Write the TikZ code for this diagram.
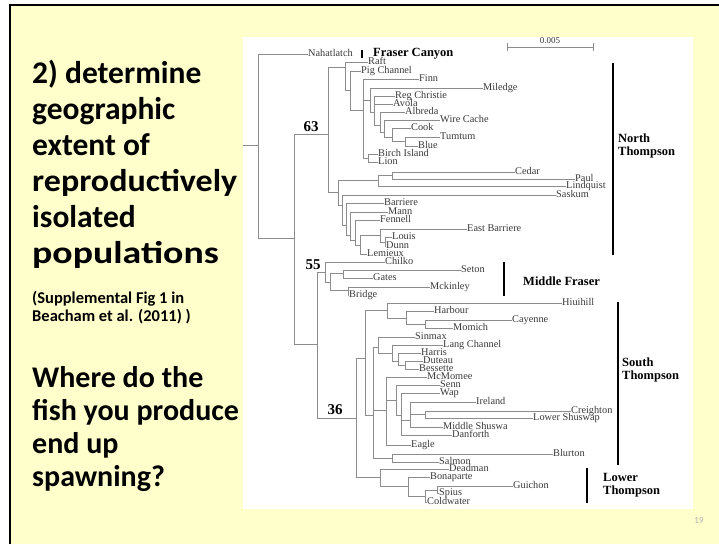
\documentclass[tikz,border=0pt]{standalone}
\usepackage{fontspec}
\setmainfont{Liberation Serif}
\newfontfamily\slidefont{Carlito}
\definecolor{slideyellow}{HTML}{FFFFCC}
\definecolor{treegray}{HTML}{8C8C8C}
\definecolor{labelgray}{HTML}{3A3A3A}
\definecolor{pagegray}{HTML}{B0B0B0}
\begin{document}
\begin{tikzpicture}[x=1pt,y=-1pt,
  branch/.style={draw=treegray, line width=0.8pt},
  taxon/.style={anchor=west, inner sep=0pt, text height=5.8pt, text depth=1.6pt,
    font=\fontsize{10.3}{10.3}\selectfont, text=labelgray},
  groupbar/.style={line width=2.6pt, draw=black},
  grouplabel/.style={anchor=west, inner sep=0pt, align=left,
    font=\bfseries\fontsize{12.5}{13.5}\selectfont},
  support/.style={inner sep=0pt, font=\bfseries\fontsize{15}{15}\selectfont},
  heading/.style={anchor=base west, inner sep=0pt,
    font=\slidefont\bfseries\fontsize{31.5}{36}\selectfont},
  question/.style={anchor=base west, inner sep=0pt,
    font=\slidefont\bfseries\fontsize{30}{33}\selectfont},
  source/.style={anchor=base west, inner sep=0pt,
    font=\slidefont\bfseries\fontsize{16.5}{18}\selectfont}]

\useasboundingbox (0,0) rectangle (719,544);
% slide background and frame
\fill[white] (0,0) rectangle (719,544);
\fill[slideyellow] (10,5) rectangle (719,544);
\draw[line width=1.6pt] (10,544) -- (10,5) -- (719,5);
% figure panel
\fill[white] (243,37) rectangle (693,509);

% left-hand text
\node[heading] (h1) at (32,83)  {2) determine};
\node[heading] (h2) at (32,119) {geographic};
\node[heading] (h3) at (32,155) {extent of};
\node[heading] (h4) at (32,191) {\scalebox{1.08}[1]{reproductively}};
\node[heading] (h5) at (32,227) {isolated};
\node[heading] (h6) at (32,263) {\scalebox{1.2}[1]{populations}};
\node[source]  (s1) at (32,303) {(Supplemental Fig 1 in};
\node[source]  (s2) at (32,321) {Beacham et al. (2011) )};
\node[question] (q1) at (32,387) {Where do the};
\node[question] (q2) at (32,420) {fish you produce};
\node[question] (q3) at (32,453) {end up};
\node[question] (q4) at (32,486) {spawning?};
\node[inner sep=0pt, font=\slidefont\fontsize{9}{9}\selectfont, text=pagegray] (pg) at (699,521) {19};

% scale bar
\coordinate (sbL) at (507,47);
\coordinate (sbR) at (593,47);
\draw[branch] (sbL) -- (sbR);
\draw[branch] ([yshift=-4pt]sbL) -- ([yshift=4pt]sbL);
\draw[branch] ([yshift=-4pt]sbR) -- ([yshift=4pt]sbR);
\node[inner sep=0pt, font=\fontsize{9}{9}\selectfont, text=labelgray] (sbtext) at (550,41) {0.005};

% internal nodes of the tree
\coordinate (stub) at (243,145);
\coordinate (root) at (258,145);
\coordinate (nB0) at (294,238);
\coordinate (n63) at (328,134);
\coordinate (nA)  at (345,67);
\coordinate (nPC) at (350,90);
\coordinate (nFi) at (363,110);
\coordinate (nMi) at (370,100);
\coordinate (nRC) at (374,112);
\coordinate (nAl) at (380,125);
\coordinate (nWC) at (384,132);
\coordinate (nCo) at (392,137);
\coordinate (nTu) at (405,141);
\coordinate (nBL) at (368,158);
\coordinate (nB)  at (338,192);
\coordinate (nCd) at (378,180);
\coordinate (nCP) at (392,175);
\coordinate (nSB) at (342,205);
\coordinate (nBa) at (346,225);
\coordinate (nMa) at (350,235);
\coordinate (nFe) at (355,240);
\coordinate (nEB) at (360,245);
\coordinate (nEL) at (380,235);
\coordinate (nLD) at (385,242);
\coordinate (nC)  at (317,344);
\coordinate (nMF) at (325,272);
\coordinate (nMF2) at (330,282);
\coordinate (nSG) at (343,273);
\coordinate (nMB) at (348,290);
\coordinate (nD)  at (356,418);
\coordinate (nST) at (365,358);
\coordinate (nH)  at (387,310);
\coordinate (nH2) at (406,318);
\coordinate (nH3) at (425,324);
\coordinate (nY)  at (373,415);
\coordinate (nZ)  at (378,347);
\coordinate (nL)  at (392,353);
\coordinate (nHa) at (398,361);
\coordinate (nDu) at (405,365);
\coordinate (nQ)  at (386,410);
\coordinate (nSW) at (396,400);
\coordinate (nWp) at (401,415);
\coordinate (nIr) at (410,420);
\coordinate (nCL) at (425,414);
\coordinate (nBS) at (392,458);
\coordinate (nLT) at (380,477);
\coordinate (nBG) at (408,486);
\coordinate (nGS) at (425,496);
\coordinate (nGu) at (437,490);

% population labels
\foreach \n/\x/\y/\t in {
  Nahatlatch/308/54/Nahatlatch, Raft/368/62/Raft, PigChannel/361/71/Pig Channel,
  Finn/419/79/Finn, Miledge/483/88/Miledge, RegChristie/395/96/Reg Christie,
  Avola/393/104/Avola, Albreda/405/112/Albreda, WireCache/440/120/Wire Cache,
  Cook/411/128/Cook, Tumtum/440/137/Tumtum, Blue/418/146/Blue,
  BirchIsland/378/154/Birch Island, Lion/378/162/Lion, Cedar/515/172/Cedar,
  Paul/575/179/Paul, Lindquist/566/186/Lindquist, Saskum/556/195/Saskum,
  Barriere/384/203/Barriere, Mann/388/212/Mann, Fennell/380/220/Fennell,
  EastBarriere/467/229/East Barriere, Louis/392/237/Louis, Dunn/386/246/Dunn,
  Lemieux/367/254/Lemieux, Chilko/385/262/Chilko, Seton/461/270/Seton,
  Gates/373/278/Gates, Mckinley/430/287/Mckinley, Bridge/349/295/Bridge,
  Hiuihill/562/303/Hiuihill, Harbour/434/311/Harbour, Cayenne/512/320/Cayenne,
  Momich/453/328/Momich, Sinmax/415/337/Sinmax, LangChannel/443/345/Lang Channel,
  Harris/421/353/Harris, Duteau/423/361/Duteau, Bessette/419/369/Bessette,
  McMomee/427/377/McMomee, Senn/440/385/Senn, Wap/440/393/Wap,
  Ireland/476/402/Ireland, Creighton/571/411/Creighton, LowerShuswap/533/418/Lower Shuswap,
  MiddleShuswa/443/427/Middle Shuswa, Danforth/452/435/Danforth, Eagle/411/445/Eagle,
  Blurton/553/454/Blurton, Salmon/439/462/Salmon, Deadman/449/469/Deadman,
  Bonaparte/430/477/Bonaparte, Guichon/513/486/Guichon, Spius/439/493/Spius,
  Coldwater/427/502/Coldwater}
  \node[taxon] (\n) at (\x,\y) {\t};

% branches
\draw[branch] (stub) -- (root);
\foreach \p/\c in {
  root/Nahatlatch.west, root/nB0,
  nB0/n63, nB0/nC,
  n63/nA, n63/nB,
  nA/Raft.west, nA/nPC,
  nPC/PigChannel.west, nPC/nFi,
  nFi/Finn.west, nFi/nMi, nFi/nBL,
  nMi/Miledge.west, nMi/nRC,
  nRC/RegChristie.west, nRC/Avola.west, nRC/nAl,
  nAl/Albreda.west, nAl/nWC,
  nWC/WireCache.west, nWC/nCo,
  nCo/Cook.west, nCo/nTu,
  nTu/Tumtum.west, nTu/Blue.west,
  nBL/BirchIsland.west, nBL/Lion.west,
  nB/nCd, nB/nSB,
  nCd/nCP, nCd/Lindquist.west,
  nCP/Cedar.west, nCP/Paul.west,
  nSB/Saskum.west, nSB/nBa,
  nBa/Barriere.west, nBa/nMa,
  nMa/Mann.west, nMa/nFe,
  nFe/Fennell.west, nFe/nEB,
  nEB/nEL, nEB/Lemieux.west,
  nEL/EastBarriere.west, nEL/nLD,
  nLD/Louis.west, nLD/Dunn.west,
  nC/nMF, nC/nD,
  nMF/Chilko.west, nMF/nMF2,
  nMF2/nSG, nMF2/nMB,
  nSG/Seton.west, nSG/Gates.west,
  nMB/Mckinley.west, nMB/Bridge.west,
  nD/nST, nD/nLT,
  nST/nH, nST/nY,
  nH/Hiuihill.west, nH/nH2,
  nH2/Harbour.west, nH2/nH3,
  nH3/Cayenne.west, nH3/Momich.west,
  nY/nZ, nY/nQ, nY/nBS,
  nZ/Sinmax.west, nZ/nL,
  nL/LangChannel.west, nL/nHa,
  nHa/Harris.west, nHa/nDu,
  nDu/Duteau.west, nDu/Bessette.west,
  nQ/McMomee.west, nQ/nSW, nQ/Eagle.west,
  nSW/Senn.west, nSW/nWp,
  nWp/Wap.west, nWp/nIr, nWp/Danforth.west,
  nIr/Ireland.west, nIr/nCL, nIr/MiddleShuswa.west,
  nCL/Creighton.west, nCL/LowerShuswap.west,
  nBS/Blurton.west, nBS/Salmon.west,
  nLT/Deadman.west, nLT/nBG,
  nBG/Bonaparte.west, nBG/nGS,
  nGS/nGu, nGS/Coldwater.west,
  nGu/Guichon.west, nGu/Spius.west}
  \draw[branch] (\p) |- (\c);

% bootstrap support values
\node[support] (b63) at (311,127) {63};
\node[support] (b55) at (313,265) {55};
\node[support] (b36) at (335,410) {36};

% regional groups
\draw[groupbar] (362,50) -- (362,58);
\node[grouplabel] (gFC) at (373,54) {Fraser Canyon};
\draw[groupbar] (613,63) -- (613,255);
\node[grouplabel] (gNT) at (618,146) {North\\Thompson};
\draw[groupbar] (504,262) -- (504,296);
\node[grouplabel] (gMF) at (523,281) {Middle Fraser};
\draw[groupbar] (618,302) -- (618,465);
\node[grouplabel] (gST) at (622,370) {South\\Thompson};
\draw[groupbar] (587,468) -- (587,503);
\node[grouplabel] (gLT) at (603,485) {Lower\\Thompson};
\end{tikzpicture}
\end{document}
